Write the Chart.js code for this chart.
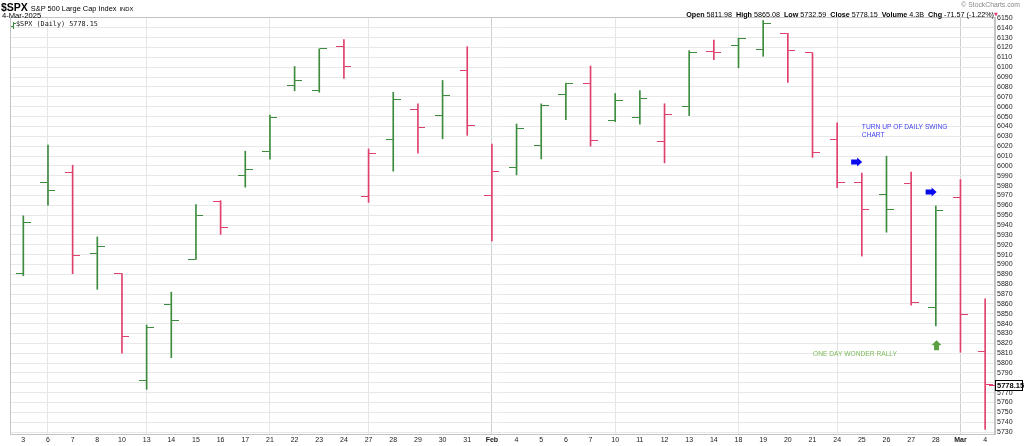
<!DOCTYPE html>
<html>
<head>
<meta charset="utf-8">
<script src="https://cdn.jsdelivr.net/npm/chart.js@4.4.1/dist/chart.umd.min.js"></script>
<style>
html,body{margin:0;padding:0;background:#fff;width:1024px;height:446px;overflow:hidden;font-family:"Liberation Sans",Arial,sans-serif;}
#wrap{position:relative;width:1024px;height:446px;}
#c{position:absolute;left:0;top:0;}
.t{position:absolute;white-space:nowrap;color:#000;line-height:1;}
.b{font-weight:bold;}
</style>
</head>
<body>
<div id="wrap">
<canvas id="c" width="1024" height="446"></canvas>
<div class="t" style="left:1px;top:2px;font-size:10.5px;"><span class="b">$SPX</span> <span style="font-size:7.4px">S&amp;P 500 Large Cap Index</span> <span style="font-size:5.8px">INDX</span></div>
<div class="t" style="left:2px;top:11.5px;font-size:7.6px">4-Mar-2025</div>
<div class="t" style="right:4px;top:2px;font-size:6.8px;color:#888">© StockCharts.com</div>
<div class="t" id="ohlc" style="right:30px;top:11px;font-size:7.2px"></div>
<div class="t" id="tri" style="left:994px;top:12px;font-size:5px;color:#e0406c;font-family:'DejaVu Sans'">▼</div>
<div class="t" id="leg" style="left:16px;top:21px;font-family:'DejaVu Sans Mono';font-size:6.8px;color:#111"></div>
</div>
<script>
// ---- data ----
const dates = ['2025-01-03','2025-01-06','2025-01-07','2025-01-08','2025-01-10','2025-01-13','2025-01-14','2025-01-15','2025-01-16','2025-01-17',
 '2025-01-21','2025-01-22','2025-01-23','2025-01-24','2025-01-27','2025-01-28','2025-01-29','2025-01-30','2025-01-31',
 '2025-02-03','2025-02-04','2025-02-05','2025-02-06','2025-02-07','2025-02-10','2025-02-11','2025-02-12','2025-02-13','2025-02-14',
 '2025-02-18','2025-02-19','2025-02-20','2025-02-21','2025-02-24','2025-02-25','2025-02-26','2025-02-27','2025-02-28','2025-03-03','2025-03-04'];
const xTickLabels = ['3','6','7','8','10','13','14','15','16','17','21','22','23','24','27','28','29','30','31',
 'Feb','4','5','6','7','10','11','12','13','14','18','19','20','21','24','25','26','27','28','Mar','4'];
const opens  = [5891.07,5982.81,5993.26,5910.66,5890.66,5782.34,5859.43,5905.21,5963.61,5990.00,
 6014.12,6081.39,6076.30,6121.43,5969.04,6026.97,6057.00,6050.75,6096.79,
 5969.65,5998.14,6020.45,6072.22,6083.13,6046.40,6049.32,6025.08,6060.59,6115.52,
 6121.60,6117.76,6134.50,6114.82,6026.69,5982.73,5970.87,5981.88,5856.74,5968.33,5811.98];
const highs  = [5949.34,6021.04,6000.68,5927.89,5890.66,5838.60,5871.92,5960.61,5964.69,6014.90,
 6051.51,6100.81,6118.73,6128.18,6017.17,6074.54,6062.83,6086.64,6120.91,
 6022.13,6042.48,6062.86,6084.03,6101.28,6073.38,6076.28,6063.00,6116.91,6127.47,
 6129.63,6147.43,6134.50,6114.82,6043.65,5992.65,6009.82,5993.69,5959.40,5986.09,5865.08];
const lows   = [5888.66,5960.01,5890.68,5874.78,5809.87,5773.31,5805.48,5905.21,5930.50,5978.40,
 6006.88,6076.13,6074.67,6088.74,5962.92,5994.63,6012.96,6027.46,6030.93,
 5923.93,5990.87,6007.06,6046.83,6019.96,6044.84,6042.34,6003.00,6051.00,6107.62,
 6099.51,6111.15,6084.59,6008.56,5977.83,5908.49,5932.69,5858.78,5837.66,5810.91,5732.59];
const closes = [5942.47,5975.38,5909.03,5918.25,5827.04,5836.22,5842.91,5949.91,5937.34,5996.66,
 6049.24,6086.37,6118.71,6101.24,6012.28,6067.70,6039.31,6071.17,6040.53,
 5994.57,6037.88,6061.48,6083.57,6025.99,6066.44,6068.50,6051.97,6115.07,6114.63,
 6129.58,6144.15,6117.52,6013.13,5983.25,5955.25,5956.06,5861.57,5954.50,5849.72,5778.15];
const priorClose = 5868.55; // close of the session before the first bar
const volumeText = '4.3B';

// ---- annotations (anchored in data space) ----
const notes = [
  {lines:['TURN UP OF DAILY SWING','CHART'], at:34.0, val:6039.5, color:'#4444f0'},
  {lines:['ONE DAY WONDER RALLY'], at:32.02, val:5809, color:'#7dbb5c'}
];
const arrows = [
  {dir:'right', at:33.79, val:6004, color:'#0a0aee'},
  {dir:'right', at:36.81, val:5973.5, color:'#0a0aee'},
  {dir:'up', at:37.03, val:5818, color:'#5c9f40'}
];

// ---- styles ----
const GREEN = '#3d8b3d', RED = '#e0406c';
const FONT = '"Liberation Sans", Arial, sans-serif';

const n = closes.length;
const up = closes.map((c,i) => c >= (i ? closes[i-1] : priorClose));
const colors = up.map(u => u ? GREEN : RED);
const dayOfWeek = dates.map(d => new Date(d + 'T00:00:00Z').getUTCDay());
const month = dates.map(d => d.slice(5,7));
const weekStart = dates.map((d,i) => i > 0 && dayOfWeek[i] < dayOfWeek[i-1]);
const monthStart = dates.map((d,i) => i > 0 && month[i] !== month[i-1]);

function tickImg(color, side){
  const cv = document.createElement('canvas');
  cv.width = 15; cv.height = 1;
  const g = cv.getContext('2d');
  g.fillStyle = color;
  g.fillRect(side < 0 ? 0 : 8, 0, 7, 1);
  return cv;
}
const openImg = {}, closeImg = {};
[GREEN, RED].forEach(c => { openImg[c] = tickImg(c,-1); closeImg[c] = tickImg(c,1); });

// header texts
const last = n - 1;
const chg = closes[last] - closes[last-1];
const pct = chg / closes[last-1] * 100;
document.getElementById('ohlc').innerHTML =
  '<span class="b">Open</span> ' + opens[last].toFixed(2) + '&nbsp; <span class="b">High</span> ' + highs[last].toFixed(2) +
  '&nbsp; <span class="b">Low</span> ' + lows[last].toFixed(2) + '&nbsp; <span class="b">Close</span> ' + closes[last].toFixed(2) +
  '&nbsp; <span class="b">Volume</span> ' + volumeText + '&nbsp; <span class="b">Chg</span> ' + chg.toFixed(2) + ' (' + pct.toFixed(2) + '%)';
document.getElementById('leg').textContent = '$SPX (Daily) ' + closes[last].toFixed(2);

const decor = {
  id: 'decor',
  afterDraw(chart){
    const {ctx, chartArea: a, scales: {x, y}} = chart;
    ctx.save();
    // plot frame
    ctx.strokeStyle = '#c4c4c4';
    ctx.lineWidth = 1;
    ctx.strokeRect(Math.round(a.left) + 0.5, Math.round(a.top) + 0.5, Math.round(a.right - a.left) - 1, Math.round(a.bottom - a.top));
    // legend glyph
    ctx.fillStyle = GREEN;
    ctx.fillRect(13, 22, 1, 7);
    ctx.fillRect(11, 26, 2, 1);
    ctx.fillRect(14, 23, 2, 1);
    // annotations
    ctx.textBaseline = 'middle';
    ctx.textAlign = 'left';
    ctx.font = '7px ' + FONT;
    notes.forEach(nt => {
      const px = x.getPixelForValue(nt.at), py = y.getPixelForValue(nt.val);
      ctx.fillStyle = nt.color;
      nt.lines.forEach((l, k) => {
        ctx.save();
        ctx.translate(px, py + k * 8.5);
        ctx.scale(0.95, 1);
        ctx.fillText(l, 0, 0);
        ctx.restore();
      });
    });
    arrows.forEach(ar => {
      const cx = x.getPixelForValue(ar.at), cy = y.getPixelForValue(ar.val);
      ctx.fillStyle = ar.color;
      ctx.beginPath();
      if (ar.dir === 'right') {
        ctx.moveTo(cx - 5.5, cy - 2.5); ctx.lineTo(cx + 0.5, cy - 2.5); ctx.lineTo(cx + 0.5, cy - 4.5);
        ctx.lineTo(cx + 5.5, cy); ctx.lineTo(cx + 0.5, cy + 4.5); ctx.lineTo(cx + 0.5, cy + 2.5);
        ctx.lineTo(cx - 5.5, cy + 2.5);
      } else {
        ctx.moveTo(cx - 2.5, cy + 5); ctx.lineTo(cx - 2.5, cy); ctx.lineTo(cx - 5, cy);
        ctx.lineTo(cx, cy - 5); ctx.lineTo(cx + 5, cy); ctx.lineTo(cx + 2.5, cy);
        ctx.lineTo(cx + 2.5, cy + 5);
      }
      ctx.closePath();
      ctx.fill();
    });
    // last price marker on the axis
    const ly = Math.round(y.getPixelForValue(closes[last]));
    ctx.fillStyle = RED;
    ctx.fillRect(989, ly, 6, 1);
    ctx.fillStyle = '#fff';
    ctx.fillRect(995.5, ly - 4.5, 27, 10);
    ctx.strokeStyle = '#000';
    ctx.strokeRect(995.5, ly - 4.5, 27, 10);
    ctx.fillStyle = '#000';
    ctx.font = 'bold 7.5px ' + FONT;
    ctx.textBaseline = 'middle';
    ctx.fillText(closes[last].toFixed(2), 997, ly + 0.5);
    ctx.restore();
  }
};

new Chart(document.getElementById('c'), {
  type: 'bar',
  data: {
    datasets: [
      {
        type: 'bar',
        label: 'range',
        data: dates.map((d,i) => ({x: i, y: [lows[i], highs[i]]})),
        backgroundColor: colors,
        borderWidth: 0,
        barThickness: 1,
        grouped: false,
        order: 2
      },
      {
        type: 'scatter',
        label: 'open',
        data: dates.map((d,i) => ({x: i, y: opens[i]})),
        pointStyle: ctx => openImg[colors[ctx.dataIndex]],
        pointRadius: 7,
        order: 1
      },
      {
        type: 'scatter',
        label: 'close',
        data: dates.map((d,i) => ({x: i, y: closes[i]})),
        pointStyle: ctx => closeImg[colors[ctx.dataIndex]],
        pointRadius: 7,
        order: 1
      }
    ]
  },
  options: {
    responsive: false,
    animation: false,
    events: [],
    layout: {padding: {left: 10, top: 17, right: 0, bottom: 0}},
    plugins: {legend: {display: false}, tooltip: {enabled: false}},
    scales: {
      x: {
        type: 'linear',
        min: -0.54,
        max: 39.4,
        offset: false,
        afterBuildTicks: s => { s.ticks = dates.map((d,i) => ({value: i})); },
        afterFit: s => { s.height = 12; },
        ticks: {
          autoSkip: false, maxRotation: 0, minRotation: 0, padding: 2, color: '#222',
          font: ctx => ({family: FONT, size: 7, weight: (ctx.tick && monthStart[ctx.tick.value]) ? 'bold' : 'normal'}),
          callback: v => xTickLabels[v]
        },
        grid: {
          offset: false, drawTicks: false, lineWidth: 1,
          color: ctx => {
            const i = ctx.tick ? ctx.tick.value : -1;
            if (monthStart[i]) return '#cfcfcf';
            if (weekStart[i]) return '#e6e6e6';
            return 'rgba(0,0,0,0)';
          }
        },
        border: {display: true, color: '#c4c4c4'}
      },
      y: {
        type: 'linear',
        position: 'right',
        min: 5728,
        max: 6151,
        afterBuildTicks: s => { const t = []; for (let v = 5730; v <= 6150; v += 10) t.push({value: v}); s.ticks = t; },
        afterFit: s => { s.width = 29; },
        ticks: {autoSkip: false, color: '#222', padding: 2, font: {family: FONT, size: 7}, callback: v => String(v)},
        grid: {color: '#e8e8e8', drawTicks: false, lineWidth: 1},
        border: {display: true, color: '#c4c4c4'}
      }
    }
  },
  plugins: [decor]
});
</script>
</body>
</html>
